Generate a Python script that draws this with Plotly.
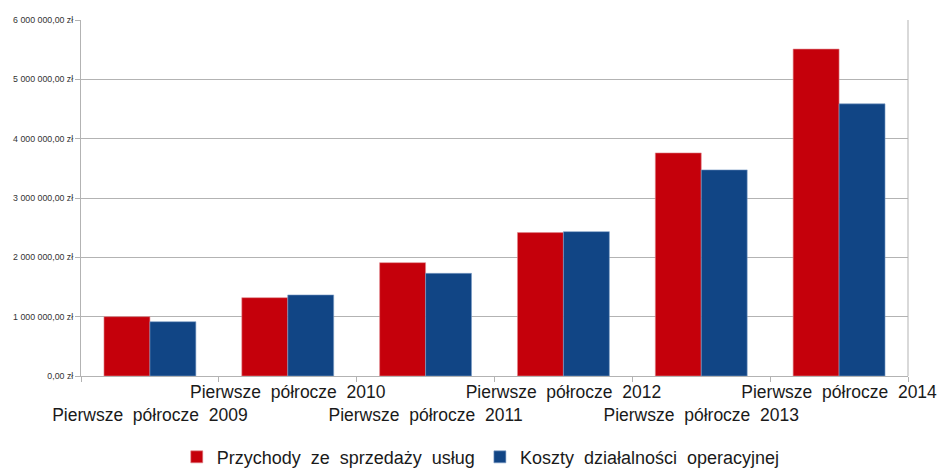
import plotly.graph_objects as go

categories = ["Pierwsze półrocze 2009", "Pierwsze półrocze 2010", "Pierwsze półrocze 2011",
              "Pierwsze półrocze 2012", "Pierwsze półrocze 2013", "Pierwsze półrocze 2014"]
przychody = [1000000, 1320000, 1910000, 2417000, 3760000, 5510000]
koszty = [915000, 1366000, 1730000, 2433000, 3474000, 4587000]
y_tickvals = [0, 1000000, 2000000, 3000000, 4000000, 5000000, 6000000]
y_ticktext = ["0,00 zł", "1 000 000,00 zł", "2 000 000,00 zł", "3 000 000,00 zł",
              "4 000 000,00 zł", "5 000 000,00 zł", "6 000 000,00 zł"]
series_names = ["Przychody ze sprzedaży usług", "Koszty działalności operacyjnej"]
colors = ["#c5000b", "#114585"]

NB = "\u00a0"


def spaced(s, n):
    return s.replace(" ", NB * n)


# staggered labels: odd positions go to second line
x_ticktext = [("<br>" if i % 2 == 0 else "") + spaced(c, 2) for i, c in enumerate(categories)]

fig = go.Figure()
fig.add_trace(go.Bar(x=categories, y=przychody, name=spaced(series_names[0], 2),
                     marker=dict(color=colors[0], line=dict(color="#e08a8f", width=0.6))))
fig.add_trace(go.Bar(x=categories, y=koszty, name=spaced(series_names[1], 2),
                     marker=dict(color=colors[1], line=dict(color="#7f9fc8", width=0.6))))

fig.update_layout(
    width=939, height=470,
    margin=dict(l=81, r=31, t=20, b=94, autoexpand=False),
    paper_bgcolor="white", plot_bgcolor="white",
    barmode="group", bargap=1/3, bargroupgap=0,
    font=dict(family="Liberation Sans, Arial, sans-serif", color="#1a1a1a"),
    legend=dict(orientation="h", x=0.512, xanchor="center", xref="container",
                y=-0.228, yanchor="middle", yref="paper",
                font=dict(size=18, color="#1a1a1a"), itemwidth=30,
                traceorder="normal"),
    showlegend=True,
)
fig.update_xaxes(
    type="category", tickmode="array", tickvals=categories, ticktext=x_ticktext,
    tickson="boundaries", ticks="outside", ticklen=5, tickcolor="#b3b3b3",
    showline=True, linecolor="#b3b3b3", linewidth=1, mirror=False, automargin=False,
    showgrid=False, tickfont=dict(size=17.5, color="#1a1a1a"), tickangle=0,
)
fig.update_yaxes(
    range=[0, 6000000], tickmode="array", tickvals=y_tickvals, ticktext=y_ticktext,
    ticks="outside", ticklen=5, tickcolor="#b3b3b3", automargin=False,
    showline=True, linecolor="#b3b3b3", linewidth=1,
    showgrid=True, gridcolor="#b3b3b3", gridwidth=1, zeroline=False,
    tickfont=dict(size=8.8, color="#333333"),
)
# right border of plot area
fig.add_shape(type="line", xref="paper", yref="paper", x0=1, x1=1, y0=0, y1=1,
              line=dict(color="#b3b3b3", width=1))

fig.write_html("out.html")
